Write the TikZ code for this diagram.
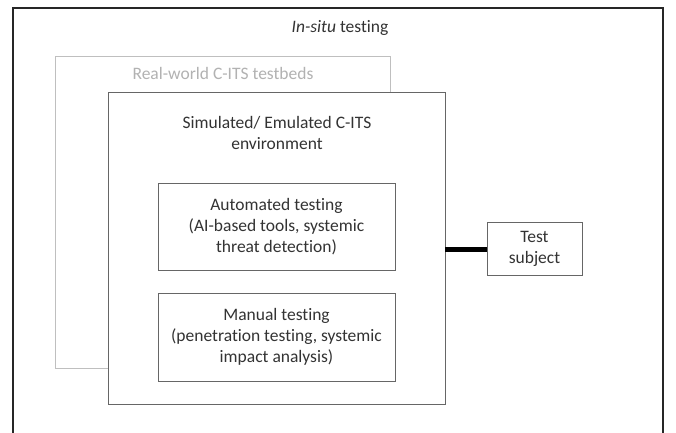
\documentclass[tikz,border=0pt]{standalone}
\usepackage{fontspec}
\setmainfont{Carlito}[RawFeature={-liga}]
\begin{document}
\begin{tikzpicture}[x=1pt,y=-1pt,
  box/.style={draw=black!60,line width=0.9pt,inner sep=0pt},
  txt/.style={font=\fontsize{17.5}{21}\selectfont,align=center,text=black!80,inner sep=0pt}]
\useasboundingbox (0,0) rectangle (676,432);
\fill[white] (0,0) rectangle (676,432);
\begin{scope}
\clip (0,0) rectangle (676,432);
\draw[black!85,line width=1.1pt] (13,440) -- (13,8) -- (663,8) -- (663,440);
\end{scope}
\node[txt] (insitu) at (340,28) {\textit{In-situ} testing};
% real-world
\draw[black!25,line width=0.9pt] (55,56) rectangle (390,368);
\node[txt,text=black!30] (real) at (223,73) {Real-world C-ITS testbeds};
% simulated
\node[box,fill=white,minimum width=337pt,minimum height=312pt] (sim) at (276.5,248) {};
\node[txt] (simt) at (277,133) {Simulated/ Emulated C-ITS\\environment};
\node[box,minimum width=237pt,minimum height=87pt] (auto) at (276.5,226.5) {};
\node[txt] (autot) at (auto.center) {Automated testing\\(AI-based tools, systemic\\threat detection)};
\node[box,minimum width=237pt,minimum height=88pt] (man) at (276.5,337) {};
\node[txt] (mant) at (man.center) {Manual testing\\(penetration testing, systemic\\impact analysis)};
\node[box,minimum width=95pt,minimum height=53pt] (ts) at (534.5,248.5) {};
\node[txt] (tst) at (ts.center) {Test\\subject};
\draw[black,line width=5pt] (sim.east |- 0,249) -- (ts.west |- 0,249);
\end{tikzpicture}
\end{document}
